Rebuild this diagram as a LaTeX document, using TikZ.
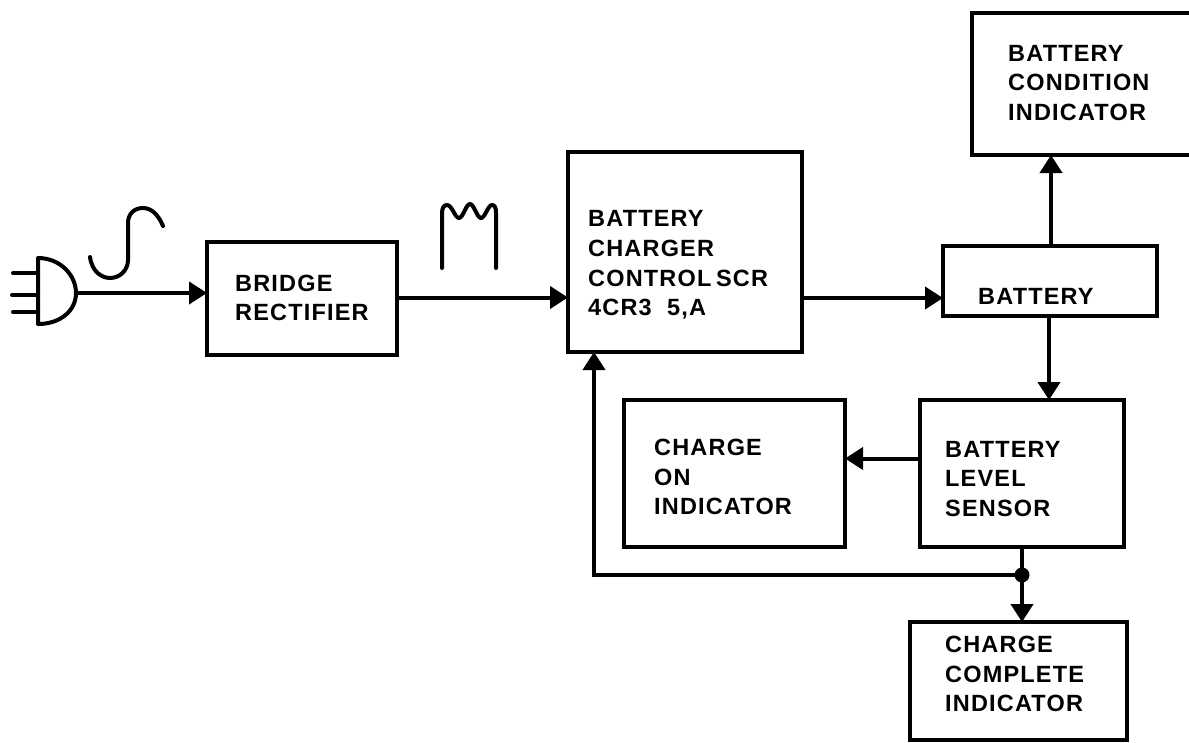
\documentclass[tikz,border=0pt]{standalone}
\usepackage{fontspec}
\setmainfont{Liberation Sans}
\usetikzlibrary{positioning,arrows.meta,calc}
\begin{document}
\begin{tikzpicture}[
    x=1pt, y=-1pt,
    font=\fontsize{23.5}{29.7}\selectfont\bfseries\addfontfeature{LetterSpace=5},
    box/.style={draw=black, line width=4.2pt, fill=white, inner sep=0pt, outer sep=0pt},
    lbl/.style={align=left, anchor=west, inner sep=0pt},
    arr/.style={-{Triangle[length=18pt,width=22pt]}, line width=4pt},
    wire/.style={line width=4pt, line cap=round, line join=round}
]
\useasboundingbox (0,0) rectangle (1189,742);
% boxes
\node[box, minimum width=190pt, minimum height=113pt] (rect) at (302,298.5) {};
\node[box, minimum width=234pt, minimum height=200pt] (ctrl) at (685,252) {};
\node[box, minimum width=223pt, minimum height=142pt] (cond) at (1083.5,84) {};
\node[box, minimum width=214pt, minimum height=70pt] (batt) at (1050,281) {};
\node[box, minimum width=204pt, minimum height=147pt] (sens) at (1022,473.5) {};
\node[box, minimum width=221pt, minimum height=147pt] (chon) at (734.5,473.5) {};
\node[box, minimum width=217pt, minimum height=118pt] (chco) at (1018.5,681) {};
% labels
\node[lbl] (trect) at (235,298) {BRIDGE\\RECTIFIER};
\node[lbl] (tctrl) at (588,265) {BATTERY\\CHARGER\\CONTROL\hspace{-3pt} SCR\\4CR3\ \ 5,A};
\node[lbl] (tcond) at (1008,83) {BATTERY\\CONDITION\\INDICATOR};
\node[lbl] (tbatt) at (978,296) {BATTERY};
\node[lbl] (tsens) at (945,479) {BATTERY\\LEVEL\\SENSOR};
\node[lbl] (tchon) at (654,477) {CHARGE\\ON\\INDICATOR};
\node[lbl] (tchco) at (945,674) {CHARGE\\COMPLETE\\INDICATOR};
% plug
\coordinate (plug) at (76,293);
\draw[wire] (38,258) .. controls (60,258) and (76,275) .. (plug) .. controls (76,311) and (60,324) .. (38,324) -- cycle;
\draw[wire] (13,273) -- (38,273);
\draw[wire] (12,295) -- (38,295);
\draw[wire] (13,312) -- (38,312);
% ac wave
\draw[wire] (90,257) .. controls (92,272) and (102,278) .. (110,278) .. controls (120,278) and (128,270) .. (128,260) -- (128,223) .. controls (128,214) and (134,208) .. (143,208) .. controls (151,208) and (158,214) .. (163,226);
% rectified wave
\draw[wire] (442,268) -- (442,213) .. controls (442,208) and (444,205) .. (447,205) .. controls (452,205) and (455,218) .. (459,218) .. controls (463,218) and (466,204) .. (470,204) .. controls (474,204) and (477,218) .. (481,218) .. controls (485,218) and (488,205) .. (492,205) .. controls (495,205) and (496,208) .. (496,213) -- (496,268);
% connectors
\coordinate (dot) at (1022,575);
\coordinate (fb) at (594,575);
\draw[arr] (plug) -- (rect.west |- plug);
\draw[arr] ([yshift=1pt]rect.east) -- ([yshift=1pt]ctrl.west |- rect.east);
\draw[arr] ([yshift=-17pt]ctrl.east |- batt.west) -- ([yshift=-17pt]batt.west);
\draw[arr] ([xshift=1pt]batt.north) -- ([xshift=1pt]batt.north |- cond.south);
\draw[arr] ([xshift=-1pt]batt.south) -- ([xshift=-1pt]batt.south |- sens.north);
\draw[arr] ([yshift=15pt]sens.west) -- ([yshift=15pt]chon.east);
\draw[arr] (dot) -- (fb) -- (fb |- ctrl.south);
\draw[arr] (dot) -- (dot |- chco.north);
\draw[wire] (dot |- sens.south) -- (dot);
\fill (dot) circle (7.5pt);
\end{tikzpicture}
\end{document}
